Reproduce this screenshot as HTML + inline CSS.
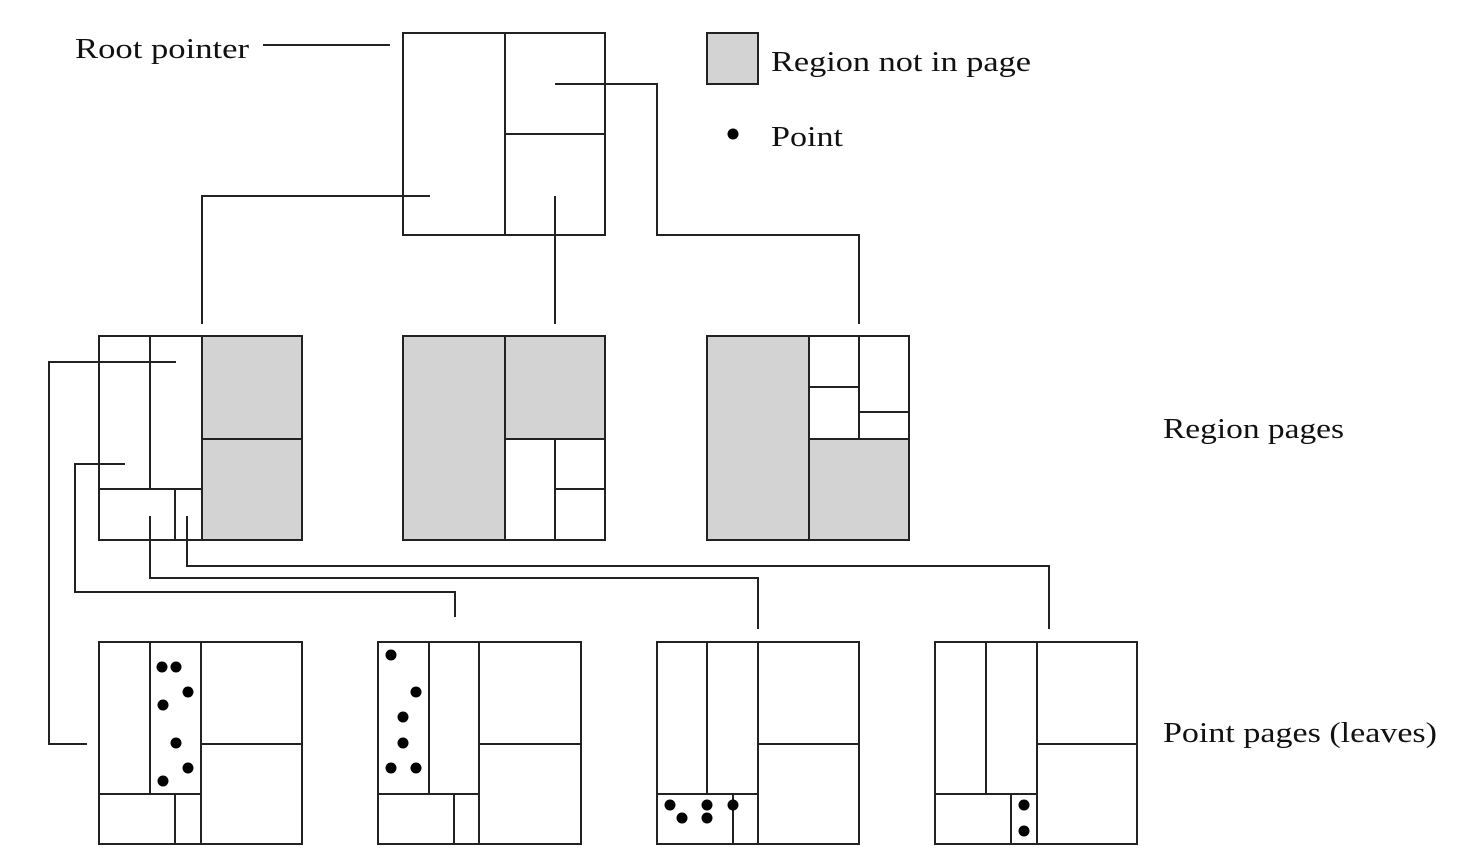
<!DOCTYPE html>
<html><head><style>body{margin:0;background:#fff}svg{display:block}</style></head>
<body>
<svg width="1460" height="860" viewBox="0 0 1460 860" xmlns="http://www.w3.org/2000/svg">
<g font-family="Liberation Serif, serif" font-size="28" fill="#111">
<text x="75" y="58" textLength="174" lengthAdjust="spacingAndGlyphs">Root pointer</text>
<text x="771" y="71" textLength="260" lengthAdjust="spacingAndGlyphs">Region not in page</text>
<text x="771" y="146" textLength="72" lengthAdjust="spacingAndGlyphs">Point</text>
<text x="1163" y="438" textLength="181" lengthAdjust="spacingAndGlyphs">Region pages</text>
<text x="1163" y="742" textLength="274" lengthAdjust="spacingAndGlyphs">Point pages (leaves)</text>
</g>
<g fill="#d3d3d3" stroke="none">
<rect x="707" y="33" width="51" height="51"/>
<rect x="202" y="336" width="100" height="204"/>
<rect x="403" y="336" width="102" height="204"/>
<rect x="505" y="336" width="100" height="103"/>
<rect x="707" y="336" width="102" height="204"/>
<rect x="809" y="439" width="100" height="101"/>
</g>
<g fill="none" stroke="#222" stroke-width="2">
<rect x="707" y="33" width="51" height="51"/>
<!-- root -->
<rect x="403" y="33" width="202" height="202"/>
<path d="M505 33V235M505 134H605"/>
<path d="M263 45H390"/>
<path d="M555 84H657V235H859V324"/>
<path d="M430 196H202V324"/>
<path d="M555 196V324"/>
<!-- region page 1 -->
<rect x="99" y="336" width="203" height="204"/>
<path d="M202 336V540M202 439H302M150 336V489M99 489H202M175 489V540"/>
<path d="M176 362H49V744H87"/>
<path d="M125 464H75V592H455V617"/>
<path d="M150 516V578H758V629"/>
<path d="M187 516V566H1049V629"/>
<!-- region page 2 -->
<rect x="403" y="336" width="202" height="204"/>
<path d="M505 336V540M505 439H605M555 439V540M555 489H605"/>
<!-- region page 3 -->
<rect x="707" y="336" width="202" height="204"/>
<path d="M809 336V540M809 439H909M859 336V439M809 387H859M859 412H909"/>
<!-- leaves -->
<rect x="99" y="642" width="203" height="202"/>
<path d="M150 642V794M201 642V844M201 744H302M99 794H201M175 794V844"/>
<rect x="378" y="642" width="203" height="202"/>
<path d="M429 642V794M479 642V844M479 744H581M378 794H479M454 794V844"/>
<rect x="657" y="642" width="202" height="202"/>
<path d="M707 642V794M758 642V844M758 744H859M657 794H758M733 794V844"/>
<rect x="935" y="642" width="202" height="202"/>
<path d="M986 642V794M1037 642V844M1037 744H1137M935 794H1037M1011 794V844"/>
</g>
<g fill="#000">
<circle cx="733" cy="134" r="5.5"/>
<circle cx="162" cy="667" r="5.5"/><circle cx="176" cy="667" r="5.5"/><circle cx="188" cy="692" r="5.5"/><circle cx="163" cy="705" r="5.5"/><circle cx="176" cy="743" r="5.5"/><circle cx="188" cy="768" r="5.5"/><circle cx="163" cy="781" r="5.5"/>
<circle cx="391" cy="655" r="5.5"/><circle cx="416" cy="692" r="5.5"/><circle cx="403" cy="717" r="5.5"/><circle cx="403" cy="743" r="5.5"/><circle cx="391" cy="768" r="5.5"/><circle cx="416" cy="768" r="5.5"/>
<circle cx="670" cy="805" r="5.5"/><circle cx="682" cy="818" r="5.5"/><circle cx="707" cy="805" r="5.5"/><circle cx="707" cy="818" r="5.5"/><circle cx="733" cy="805" r="5.5"/>
<circle cx="1024" cy="805" r="5.5"/><circle cx="1024" cy="831" r="5.5"/>
</g>
</svg>
</body></html>
